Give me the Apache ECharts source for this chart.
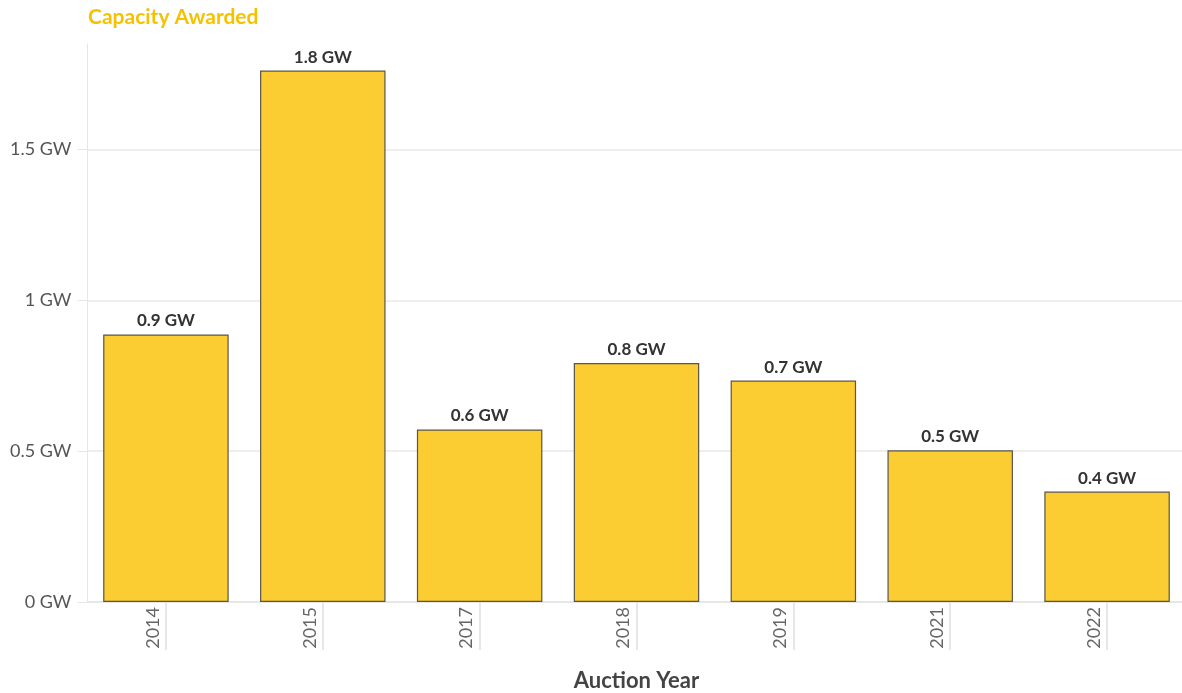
<!DOCTYPE html>
<html>
<head>
<meta charset="utf-8">
<title>Capacity Awarded</title>
<script src="https://cdn.jsdelivr.net/npm/echarts@6/dist/echarts.min.js"></script>
<style>
  html, body { margin: 0; padding: 0; background: #ffffff; overflow: hidden; }
  #chart { width: 1182px; height: 693px; }
</style>
</head>
<body>
<div id="chart"></div>
<script>
// Auction years and the capacity awarded in each (GW)
const years = ['2014', '2015', '2017', '2018', '2019', '2021', '2022'];
const capacityGW = [0.887, 1.762, 0.572, 0.792, 0.734, 0.503, 0.366];
const yTicks = [0, 0.5, 1, 1.5];

const FONT = 'Lato, "Noto Sans", sans-serif';

const chart = echarts.init(document.getElementById('chart'), null, { renderer: 'canvas' });

chart.setOption({
  animation: false,
  backgroundColor: '#ffffff',
  title: {
    text: 'Capacity Awarded',
    left: 83,
    top: 2,
    textStyle: { color: '#f6c200', fontSize: 21, fontWeight: 'bold', fontFamily: FONT }
  },
  grid: {
    left: 87.5, width: 1098, top: 44, bottom: 91,
    containLabel: false,
    outerBoundsMode: 'none'
  },
  xAxis: {
    type: 'category',
    data: years,
    name: 'Auction Year',
    nameLocation: 'middle',
    nameGap: 68,
    nameTextStyle: { color: '#444', fontSize: 22, fontWeight: 'bold', fontFamily: FONT },
    axisLine: { show: true, lineStyle: { color: '#e3e3e3', width: 1.5 } },
    axisTick: { show: true, alignWithLabel: true, length: 48, lineStyle: { color: '#e0e0e0', width: 1.5 } },
    axisLabel: {
      rotate: 90,
      margin: 5,
      color: '#666',
      fontSize: 18,
      fontFamily: FONT,
      verticalAlign: 'bottom',
      lineHeight: 26
    },
    splitLine: { show: false }
  },
  yAxis: {
    type: 'value',
    min: 0,
    max: 1.85,
    interval: 0.5,
    axisLine: { show: true, lineStyle: { color: '#e6e6e6', width: 1 } },
    axisTick: { show: true, length: 10, lineStyle: { color: '#e6e6e6' } },
    axisLabel: {
      showMaxLabel: false,
      margin: 16,
      color: '#555',
      fontSize: 18,
      fontFamily: FONT,
      formatter: v => (yTicks.includes(v) ? v + ' GW' : '')
    },
    splitLine: { show: true, showMaxLine: false, lineStyle: { color: '#e9e9e9', width: 1.5 } }
  },
  series: [{
    type: 'bar',
    data: capacityGW,
    barCategoryGap: '20%',
    itemStyle: { color: '#fbcd32', borderColor: '#5a5548', borderWidth: 1.2 },
    label: {
      show: true,
      position: 'top',
      distance: 5,
      color: '#333',
      fontSize: 17,
      fontWeight: 'bold',
      fontFamily: FONT,
      formatter: p => p.value.toFixed(1) + ' GW'
    }
  }]
});
</script>
</body>
</html>
